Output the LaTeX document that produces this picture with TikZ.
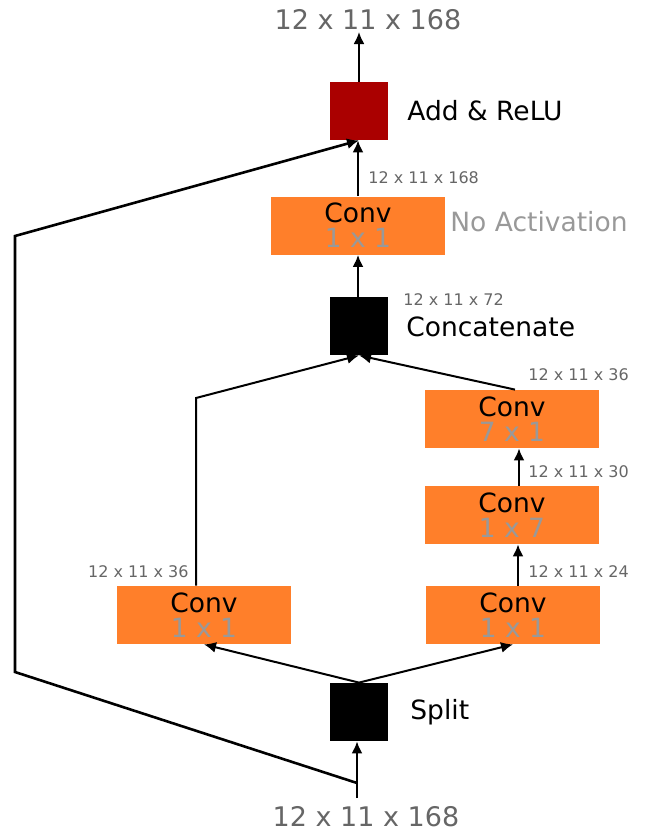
\documentclass[tikz,border=0pt]{standalone}
\usepackage{fontspec}
\setmainfont{DejaVu Sans}
\usepackage{tikz}
\usetikzlibrary{arrows.meta}
\definecolor{convColor}{HTML}{FF7F2A}
\definecolor{addColor}{HTML}{AA0000}
\definecolor{shapeColor}{HTML}{666666}
\definecolor{kernelColor}{HTML}{999999}

\begin{document}
\begin{tikzpicture}[x=0.5pt, y=-0.5pt,
		conv/.style={fill=convColor, minimum width=87pt, minimum height=29pt, inner sep=0pt, align=center, font=\fontsize{13.25}{12.5}\selectfont},
		op/.style={minimum size=29pt, inner sep=0pt},
		oplbl/.style={anchor=west, inner sep=0pt, font=\fontsize{13.25}{16}\selectfont},
		dimlbl/.style={anchor=west, inner sep=0pt, text=shapeColor, font=\fontsize{8}{10}\selectfont},
		iolbl/.style={inner sep=0pt, text=shapeColor, font=\fontsize{13.5}{16}\selectfont},
		flow/.style={-{Latex[length=6pt, width=5.5pt]}, line width=1pt},
		skipline/.style={-{Latex[length=6pt, width=5.5pt]}, line width=1.3pt}
		]
		\useasboundingbox (0,0) rectangle (644,836);

		% Operation boxes
		\node[op, fill=addColor] (add) at (359,111) {};
		\node[oplbl] (addlbl) at (407,111) {Add \& ReLU};
		\node[conv] (convout) at (358,225.5) {Conv\\{\color{kernelColor}1 x 1}};
		\node[oplbl, text=kernelColor] (noact) at (450,222) {No Activation};
		\node[op, fill=black] (cat) at (359,326) {};
		\node[oplbl] (catlbl) at (406,327) {Concatenate};
		\node[op, fill=black] (split) at (359,712) {};
		\node[oplbl] (splitlbl) at (410,712) {Split};

		% Branches
		\node[conv] (convl) at (204,615) {Conv\\{\color{kernelColor}1 x 1}};
		\node[conv] (convr) at (513,615) {Conv\\{\color{kernelColor}1 x 1}};
		\node[conv] (convrow) at (512,515) {Conv\\{\color{kernelColor}1 x 7}};
		\node[conv] (convcol) at (512,419) {Conv\\{\color{kernelColor}7 x 1}};

		% Tensor shapes
		\node[iolbl] (inlbl) at (366,817) {12 x 11 x 168};
		\node[iolbl] (outlbl) at (368,20) {12 x 11 x 168};
		\node[dimlbl] (dimout) at (368,178) {12 x 11 x 168};
		\node[dimlbl] (dimcat) at (403,300) {12 x 11 x 72};
		\node[dimlbl] (dimcol) at (528,375) {12 x 11 x 36};
		\node[dimlbl] (dimrow) at (528,472) {12 x 11 x 30};
		\node[dimlbl] (dimr) at (528,572) {12 x 11 x 24};
		\node[dimlbl, anchor=east] (diml) at (189,572) {12 x 11 x 36};

		% Connectors
		\coordinate (instart) at (357,798);
		\coordinate (outend) at (359,32);
		\coordinate (lbend) at (196,398);
		\coordinate (skipa) at (357,783);
		\coordinate (skipb) at (15,672);
		\coordinate (skipc) at (15,236);

		\draw[flow] (instart) -- (instart |- split.south);
		\draw[flow] (split.north) -- (convl.south);
		\draw[flow] (split.north) -- (convr.south);
		\draw[flow] ([xshift=2.5pt]convr.north) -- ([xshift=2.5pt]convr.north |- convrow.south);
		\draw[flow] ([xshift=3.5pt]convrow.north) -- ([xshift=3.5pt]convrow.north |- convcol.south);
		\draw[flow] ([xshift=1.5pt]convcol.north) -- (cat.south);
		\draw[flow] (lbend |- convl.north) -- (lbend) -- (cat.south);
		\draw[flow] (convout.north |- cat.north) -- (convout.south);
		\draw[flow] (convout.north) -- (convout.north |- add.south);
		\draw[flow] (add.north) -- (outend);
		\draw[skipline] (skipa) -- (skipb) -- (skipc) -- (add.south);
	\end{tikzpicture}
\end{document}
